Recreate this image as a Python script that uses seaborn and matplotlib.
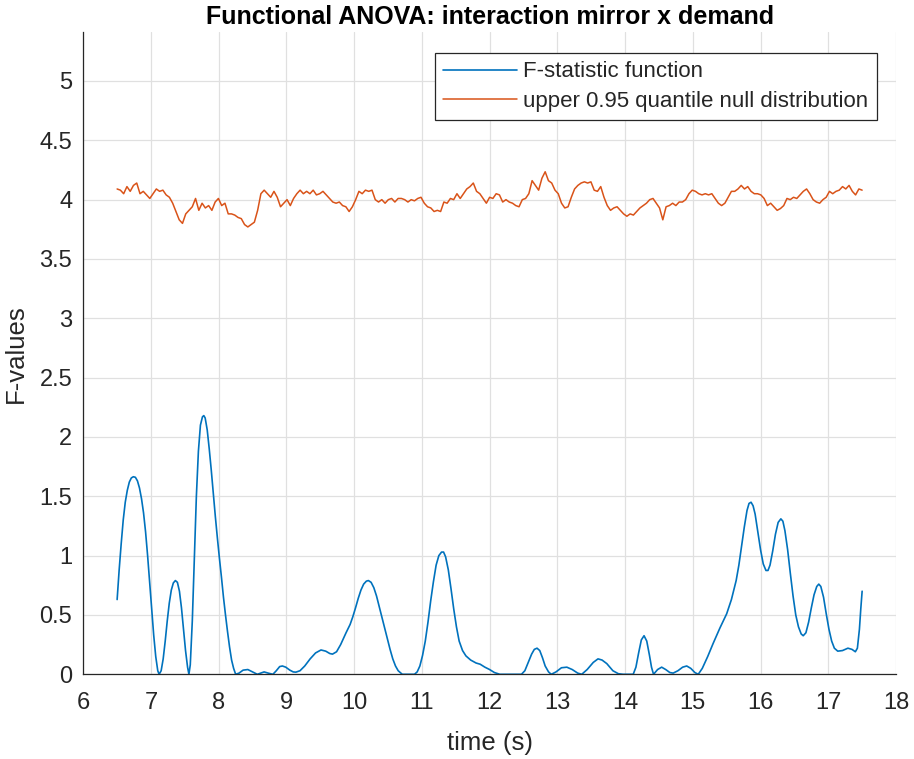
import matplotlib
matplotlib.use("Agg")
import matplotlib.pyplot as plt
import seaborn as sns
import numpy as np

# F-statistic function
t_stat = [6.50, 6.53, 6.56, 6.59, 6.62, 6.65, 6.68, 6.71, 6.74, 6.77, 6.80, 6.83, 6.86, 6.89,
          6.92, 6.95, 6.98, 7.01, 7.04, 7.07, 7.10, 7.12,
          7.15, 7.18, 7.21, 7.24, 7.27, 7.30, 7.33, 7.36, 7.39, 7.42, 7.45, 7.48, 7.51, 7.54, 7.56,
          7.58, 7.61, 7.64, 7.67, 7.70, 7.73, 7.76, 7.78, 7.80, 7.83, 7.86, 7.89, 7.92, 7.95,
          7.98, 8.01, 8.04, 8.07, 8.10, 8.13, 8.16, 8.19, 8.22, 8.25,
          8.30, 8.36, 8.43, 8.50, 8.57, 8.62, 8.67, 8.73, 8.80, 8.85, 8.90, 8.94, 8.99, 9.05,
          9.10, 9.14, 9.20, 9.27, 9.35, 9.43, 9.51, 9.58, 9.64, 9.68, 9.74, 9.80, 9.88, 9.94,
          9.98, 10.02, 10.06, 10.10, 10.14, 10.18, 10.21, 10.25, 10.29, 10.33, 10.37, 10.41,
          10.45, 10.49, 10.53, 10.57, 10.61, 10.65, 10.71, 10.80, 10.89,
          10.93, 10.97, 11.01, 11.05, 11.09, 11.13, 11.17, 11.21, 11.25, 11.29, 11.32, 11.35,
          11.39, 11.43, 11.47, 11.51, 11.55, 11.60, 11.65, 11.72, 11.80, 11.86,
          11.93, 12.00, 12.07, 12.15, 12.30, 12.47, 12.52, 12.57, 12.62, 12.66, 12.70, 12.74,
          12.78, 12.82, 12.87, 12.91, 12.98, 13.06, 13.14, 13.22, 13.30, 13.36, 13.44, 13.53,
          13.60, 13.66, 13.73, 13.82, 13.90, 13.97, 14.05, 14.12, 14.16, 14.20, 14.24, 14.28,
          14.32, 14.36, 14.39, 14.42, 14.48, 14.54, 14.60, 14.66, 14.71, 14.78, 14.85, 14.91,
          14.97, 15.03, 15.08, 15.14, 15.22, 15.30, 15.40, 15.50, 15.57,
          15.64, 15.68, 15.72, 15.76, 15.80, 15.83, 15.86, 15.89, 15.92, 15.96, 16.00, 16.04,
          16.08, 16.11, 16.14, 16.18, 16.22, 16.26, 16.30, 16.33, 16.36, 16.40, 16.44, 16.48,
          16.52, 16.56, 16.60, 16.63, 16.67, 16.71, 16.75, 16.79, 16.83, 16.86, 16.89, 16.93,
          16.97, 17.01, 17.05, 17.09, 17.14, 17.21, 17.29, 17.35, 17.40, 17.43, 17.46, 17.48,
          17.50]
f_stat = [0.63, 0.88, 1.10, 1.30, 1.45, 1.55, 1.62, 1.655, 1.665, 1.66, 1.63, 1.57, 1.48, 1.36,
          1.20, 1.00, 0.78, 0.55, 0.33, 0.15, 0.03, 0.00,
          0.03, 0.13, 0.28, 0.45, 0.60, 0.71, 0.77, 0.79, 0.775, 0.70, 0.56, 0.38, 0.20, 0.06, 0.00,
          0.08, 0.45, 0.98, 1.50, 1.88, 2.10, 2.17, 2.18, 2.16, 2.06, 1.90, 1.72, 1.52, 1.33,
          1.15, 0.98, 0.82, 0.65, 0.50, 0.36, 0.23, 0.12, 0.05, 0.00,
          0.01, 0.035, 0.04, 0.02, 0.00, 0.01, 0.02, 0.01, 0.00, 0.03, 0.065, 0.07, 0.06, 0.035,
          0.02, 0.018, 0.03, 0.07, 0.13, 0.18, 0.205, 0.195, 0.175, 0.17, 0.19, 0.25, 0.35, 0.42,
          0.485, 0.56, 0.64, 0.71, 0.76, 0.785, 0.79, 0.775, 0.73, 0.66, 0.57, 0.48,
          0.39, 0.30, 0.21, 0.13, 0.07, 0.03, 0.00, 0.00, 0.00,
          0.02, 0.07, 0.16, 0.28, 0.44, 0.62, 0.78, 0.92, 1.00, 1.03, 1.03, 0.99,
          0.88, 0.72, 0.55, 0.40, 0.28, 0.20, 0.155, 0.12, 0.095, 0.085,
          0.06, 0.04, 0.015, 0.00, 0.00, 0.00, 0.03, 0.10, 0.17, 0.21, 0.22, 0.20,
          0.14, 0.07, 0.02, 0.00, 0.02, 0.055, 0.06, 0.04, 0.01, 0.00, 0.04, 0.10,
          0.13, 0.12, 0.09, 0.03, 0.005, 0.00, 0.00, 0.00, 0.06, 0.18, 0.29, 0.325,
          0.28, 0.16, 0.06, 0.00, 0.04, 0.06, 0.04, 0.015, 0.01, 0.03, 0.06, 0.07,
          0.05, 0.015, 0.00, 0.05, 0.15, 0.26, 0.39, 0.51, 0.63,
          0.79, 0.92, 1.08, 1.24, 1.38, 1.44, 1.45, 1.42, 1.35, 1.20, 1.05, 0.93,
          0.875, 0.875, 0.92, 1.04, 1.18, 1.28, 1.31, 1.29, 1.21, 1.05, 0.85, 0.66,
          0.50, 0.40, 0.34, 0.325, 0.35, 0.44, 0.56, 0.67, 0.74, 0.76, 0.74, 0.65,
          0.51, 0.38, 0.28, 0.22, 0.195, 0.20, 0.22, 0.21, 0.19, 0.22, 0.38, 0.55,
          0.70]

# upper 0.95 quantile of the null distribution, sampled evenly from 6.5 s to 17.5 s
q95 = [4.09, 4.08, 4.05, 4.11, 4.07, 4.12, 4.14, 4.05, 4.07, 4.04, 4.01, 4.05, 4.09, 4.07,
       4.08, 4.04, 4.02, 3.97, 3.90, 3.83, 3.80, 3.88, 3.91, 3.94, 4.01, 3.91, 3.97, 3.93,
       3.95, 3.91, 3.98, 4.01, 3.95, 3.97, 3.88, 3.88, 3.87, 3.85, 3.84, 3.79, 3.77, 3.79,
       3.81, 3.91, 4.05, 4.08, 4.05, 4.02, 4.07, 4.02, 3.94, 3.97, 4.00, 3.95, 4.01, 4.05,
       4.08, 4.05, 4.07, 4.05, 4.08, 4.04, 4.05, 4.07, 4.04, 4.01, 3.98, 3.97, 3.98, 3.95,
       3.94, 3.90, 3.94, 4.00, 4.07, 4.05, 4.08, 4.07, 4.08, 4.00, 3.98, 4.00, 3.97, 4.00,
       4.01, 3.98, 4.01, 4.01, 4.00, 3.98, 4.00, 3.99, 4.01, 4.02, 3.97, 3.94, 3.93, 3.90,
       3.91, 3.90, 3.98, 3.97, 4.01, 4.00, 4.05, 4.01, 4.05, 4.09, 4.11, 4.14, 4.07, 4.05,
       4.01, 3.97, 4.02, 4.01, 4.05, 4.04, 3.98, 4.00, 3.98, 3.97, 3.95, 3.94, 4.00, 4.01,
       4.05, 4.16, 4.12, 4.08, 4.18, 4.235, 4.16, 4.14, 4.08, 4.05, 3.97, 3.93, 3.94, 4.02,
       4.09, 4.12, 4.14, 4.15, 4.14, 4.15, 4.08, 4.07, 4.11, 4.02, 3.95, 3.91, 3.93, 3.94,
       3.91, 3.88, 3.86, 3.88, 3.87, 3.90, 3.93, 3.95, 3.97, 4.00, 4.01, 3.97, 3.93, 3.83,
       3.94, 3.95, 3.97, 3.95, 3.98, 3.98, 4.00, 4.05, 4.08, 4.07, 4.05, 4.04, 4.05, 4.04,
       4.05, 4.01, 3.97, 3.95, 3.97, 4.02, 4.07, 4.07, 4.09, 4.12, 4.09, 4.11, 4.07, 4.05,
       4.05, 4.04, 4.01, 3.95, 3.97, 3.94, 3.91, 3.925, 3.95, 4.01, 4.00, 4.02, 4.01, 4.04,
       4.07, 4.09, 4.05, 4.00, 3.98, 3.97, 4.00, 4.02, 4.07, 4.05, 4.07, 4.08, 4.11, 4.09,
       4.12, 4.07, 4.04, 4.09, 4.08]
t_q95 = np.linspace(6.5, 17.5, len(q95))

x_ticks = list(range(6, 19))
y_ticks = [0, 0.5, 1, 1.5, 2, 2.5, 3, 3.5, 4, 4.5, 5]
y_ticklabels = ['0', '0.5', '1', '1.5', '2', '2.5', '3', '3.5', '4', '4.5', '5']

sns.set_style("white")
plt.rcParams['font.family'] = ['Liberation Sans', 'DejaVu Sans']

fig, ax = plt.subplots(figsize=(9.14, 7.59), dpi=100)
fig.subplots_adjust(left=0.0911, right=0.9803, top=0.9574, bottom=0.1116)

sns.lineplot(x=t_stat, y=f_stat, ax=ax, color='#0072BD', lw=1.2,
             estimator=None, sort=False, label='F-statistic function')
sns.lineplot(x=t_q95, y=q95, ax=ax, color='#D95319', lw=1.1,
             estimator=None, sort=False, label='upper 0.95 quantile null distribution')

ax.set_xlim(6, 18)
ax.set_ylim(0, 5.41)
ax.set_xticks(x_ticks)
ax.set_yticks(y_ticks)
ax.set_yticklabels(y_ticklabels)
ax.grid(True, color='#e0e0e0', lw=0.9)
ax.set_axisbelow(True)

for side in ['top', 'right']:
    ax.spines[side].set_visible(False)
for side in ['left', 'bottom']:
    ax.spines[side].set_color('#262626')
    ax.spines[side].set_linewidth(0.9)
ax.tick_params(direction='in', length=6, width=0.9, colors='#262626',
               labelsize=17, labelcolor='#262626')
ax.tick_params(axis='x', pad=13)
ax.tick_params(axis='y', pad=8)

ax.set_xlabel('time (s)', fontsize=18.5, color='#262626', labelpad=12)
ax.set_ylabel('F-values', fontsize=18.5, color='#262626', labelpad=8)
ax.set_title('Functional ANOVA: interaction mirror x demand', fontsize=18,
             fontweight='bold', color='black', pad=6)

leg = ax.legend(loc='upper right', bbox_to_anchor=(0.9766, 0.9678), fontsize=16,
                frameon=True, fancybox=False, framealpha=1, edgecolor='#262626',
                handlelength=3.3, handletextpad=0.3, labelspacing=0.37,
                borderpad=0.38, borderaxespad=0)
leg.get_frame().set_linewidth(0.9)

fig.savefig('out.png', dpi=100)
